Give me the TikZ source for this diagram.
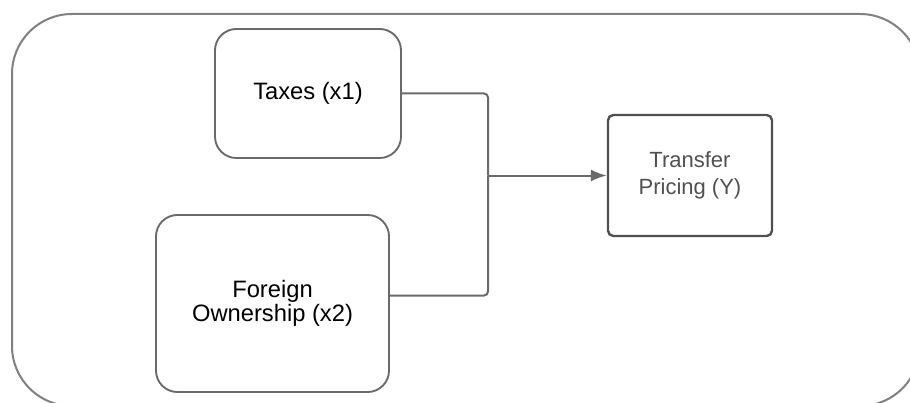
\documentclass[tikz,border=0pt]{standalone}
\usepackage{fontspec}
\setmainfont{Liberation Sans}
\usetikzlibrary{arrows.meta,calc}
\definecolor{linegray}{HTML}{6A6A6A}
\definecolor{framegray}{HTML}{808080}
\definecolor{labelgray}{HTML}{505050}
\tikzset{>={Latex[length=12pt,width=9pt]}}
\tikzset{factor/.style={draw=linegray, line width=1.4pt, rounded corners=16pt, align=center, inner sep=0pt, font=\fontsize{17.8}{18}\selectfont}}
\tikzset{link/.style={draw=linegray, line width=1.5pt, rounded corners=3pt}}

\begin{document}
\begin{tikzpicture}[x=0.75pt,y=-0.75pt]
      \useasboundingbox (0,0) rectangle (910,403);
      \clip (0,0) rectangle (910,403);
      \draw[framegray,line width=1.5pt,rounded corners=45pt] (12,14) rectangle (920,406);
      \node[factor,minimum width=139.5pt,minimum height=96.75pt] (taxes) at (308,93.5) {Taxes (x1)};
      \node[factor,minimum width=174.75pt,minimum height=132.75pt] (foreign) at (272.5,303.5) {Foreign\\Ownership (x2)};
      \node[factor,rounded corners=4pt,line width=1.8pt,draw=labelgray,text=labelgray,minimum width=123pt,minimum height=90.75pt,font=\fontsize{16.5}{20}\selectfont] (pricing) at (690,175.5) {Transfer\\Pricing (Y)};
      \coordinate (j) at (488,175.5);
      \draw[link] (taxes.east) -| (j);
      \draw[link] ([yshift=6pt]foreign.east) -| (j);
      \draw[link,->] (j) -- (pricing.west);
    \end{tikzpicture}
\end{document}
